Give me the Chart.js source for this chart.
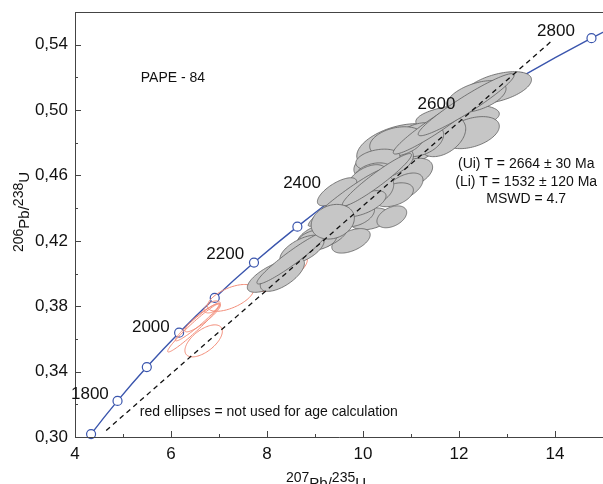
<!DOCTYPE html>
<html>
<head>
<meta charset="utf-8">
<script src="https://cdn.jsdelivr.net/npm/chart.js@4.4.1/dist/chart.umd.min.js"></script>
<style>
  html, body { margin: 0; padding: 0; background: #fff; }
</style>
</head>
<body>
<canvas id="concordia" width="603" height="484"></canvas>
<script>
// concordia curve (age in Ma)
const ages      = [1600, 1700, 1800, 1900, 2000, 2100, 2200, 2300, 2400, 2500, 2600, 2700, 2800, 2900];
const pb207u235 = [3.835, 4.335, 4.886, 5.496, 6.169, 6.911, 7.729, 8.633, 9.630, 10.731, 11.945, 13.284, 14.760, 16.390];
const pb206u238 = [0.2817, 0.3018, 0.3221, 0.3428, 0.3638, 0.3851, 0.4067, 0.4287, 0.4511, 0.4737, 0.4968, 0.5202, 0.5440, 0.5681];

// age labels next to the curve
const ageLabels = ['1800', '2000', '2200', '2400', '2600', '2800'];
const ageLabelX = [4.31, 5.58, 7.13, 8.73, 11.53, 14.02];
const ageLabelY = [0.3263, 0.3674, 0.4115, 0.455, 0.5033, 0.548];

// discordia (dashed)
const discordiaX = [4.65, 13.92];
const discordiaY = [0.304, 0.542];

// error ellipses: [207/235 centre, 206/238 centre, sx, sy, rho]
const redEllipses = [
  [7.24, 0.3851, 0.48, 0.0082, 0.6],
  [6.47, 0.3667, 0.54, 0.0147, 0.97],
  [6.55, 0.3704, 0.46, 0.0116, 0.96],
  [6.66, 0.3729, 0.37, 0.0086, 0.9],
  [6.68, 0.3588, 0.39, 0.0098, 0.6],
  [6.86, 0.3796, 0.17, 0.0037, 0.5],
  [8.30, 0.4000, 0.54, 0.0110, 0.75]
];
const grayEllipses = [
  [10.76, 0.4776, 0.89, 0.0141, 0.4],
  [11.97, 0.4953, 0.87, 0.0080, 0.3],
  [12.80, 0.5137, 0.71, 0.0098, 0.5],
  [12.36, 0.5082, 0.62, 0.0098, 0.5],
  [12.26, 0.4862, 0.58, 0.0098, 0.4],
  [11.66, 0.4837, 0.48, 0.0122, 0.4],
  [11.16, 0.4819, 0.52, 0.0104, 0.3],
  [11.00, 0.4615, 0.45, 0.0090, 0.4],
  [10.85, 0.4530, 0.40, 0.0085, 0.5],
  [10.43, 0.4678, 0.62, 0.0104, 0.4],
  [10.70, 0.4806, 0.56, 0.0092, 0.3],
  [10.31, 0.4696, 0.46, 0.0065, 0.3],
  [10.22, 0.4604, 0.41, 0.0073, 0.3],
  [10.64, 0.4482, 0.41, 0.0073, 0.4],
  [10.33, 0.4519, 0.31, 0.0086, 0.3],
  [10.08, 0.4574, 0.41, 0.0092, 0.5],
  [10.14, 0.4335, 0.41, 0.0067, 0.3],
  [10.60, 0.4347, 0.31, 0.0067, 0.4],
  [9.75, 0.4200, 0.40, 0.0075, 0.5],
  [9.87, 0.4360, 0.37, 0.0073, 0.4],
  [9.46, 0.4500, 0.41, 0.0086, 0.7],
  [10.00, 0.4427, 0.48, 0.0080, 0.6],
  [9.15, 0.4231, 0.52, 0.0086, 0.5],
  [9.04, 0.4206, 0.41, 0.0065, 0.3],
  [8.73, 0.4145, 0.46, 0.0090, 0.6],
  [8.13, 0.3985, 0.54, 0.0100, 0.7],
  [8.32, 0.3995, 0.46, 0.0104, 0.65],
  [8.52, 0.4096, 0.73, 0.0160, 0.95],
  [9.66, 0.4464, 0.80, 0.0175, 0.96],
  [10.29, 0.4574, 0.72, 0.0160, 0.95],
  [11.53, 0.4911, 0.90, 0.0180, 0.95],
  [12.15, 0.5033, 1.00, 0.0190, 0.95],
  [9.37, 0.4317, 0.45, 0.0106, 0.2]
];

// axes
const xMajor = [4, 6, 8, 10, 12, 14];
const xMinor = [5, 7, 9, 11, 13, 15];
const yMajor = [0.30, 0.34, 0.38, 0.42, 0.46, 0.50, 0.54];
const yMinor = [0.32, 0.36, 0.40, 0.44, 0.48, 0.52, 0.56];
const yTickLabels = ['0,30', '0,34', '0,38', '0,42', '0,46', '0,50', '0,54'];

const FONT = '"Liberation Sans", Arial, sans-serif';
const BLUE = '#3a55ad';

const curve = ages.map((a, i) => ({x: pb207u235[i], y: pb206u238[i]}));
const markers = curve.filter((p, i) => ages[i] >= 1700 && ages[i] <= 2800);
const discordia = discordiaX.map((x, i) => ({x: x, y: discordiaY[i]}));

function ellipsePath(ctx, xs, ys, e) {
  const [cx, cy, sx, sy, r] = e;
  const q = Math.sqrt(1 - r * r);
  ctx.beginPath();
  for (let i = 0; i <= 90; i++) {
    const t = i / 90 * 2 * Math.PI;
    const px = xs.getPixelForValue(cx + sx * Math.cos(t));
    const py = ys.getPixelForValue(cy + sy * (r * Math.cos(t) + q * Math.sin(t)));
    if (i === 0) ctx.moveTo(px, py); else ctx.lineTo(px, py);
  }
  ctx.closePath();
}

// pieces: [text, isSuperscript]
function richText(ctx, pieces, x, y, rot) {
  const big = '15px ' + FONT, small = '14px ' + FONT;
  let w = 0;
  pieces.forEach(p => { ctx.font = p[1] ? small : big; w += ctx.measureText(p[0]).width; });
  ctx.save();
  ctx.translate(x, y);
  ctx.rotate(rot);
  ctx.fillStyle = '#111';
  ctx.textBaseline = 'alphabetic';
  ctx.textAlign = 'left';
  let cur = -w / 2;
  pieces.forEach(p => {
    ctx.font = p[1] ? small : big;
    ctx.fillText(p[0], cur, p[1] ? -6 : 0);
    cur += ctx.measureText(p[0]).width;
  });
  ctx.restore();
}

const ellipsePlugin = {
  id: 'ellipses',
  afterDatasetDraw(chart, args) {
    if (args.index !== 1) return;
    const ctx = chart.ctx, xs = chart.scales.x, ys = chart.scales.y;
    ctx.save();
    ctx.lineWidth = 1;
    ctx.strokeStyle = '#f28c78';
    redEllipses.forEach(e => { ellipsePath(ctx, xs, ys, e); ctx.stroke(); });
    ctx.lineWidth = 0.8;
    ctx.strokeStyle = '#5e5e5e';
    ctx.fillStyle = '#c6c6c6';
    grayEllipses.forEach(e => { ellipsePath(ctx, xs, ys, e); ctx.fill(); ctx.stroke(); });
    ctx.restore();
  }
};

const decorPlugin = {
  id: 'decor',
  afterDraw(chart) {
    const ctx = chart.ctx, xs = chart.scales.x, ys = chart.scales.y;
    const a = chart.chartArea;
    ctx.save();
    // frame: left, bottom, top
    ctx.strokeStyle = '#444';
    ctx.lineWidth = 1;
    ctx.beginPath();
    ctx.moveTo(a.left + 0.5, a.top + 0.5);
    ctx.lineTo(a.left + 0.5, a.bottom + 0.5);
    ctx.lineTo(a.right, a.bottom + 0.5);
    ctx.moveTo(a.left, a.top + 0.5);
    ctx.lineTo(a.right, a.top + 0.5);
    // inward ticks
    xMajor.forEach(v => { const p = Math.round(xs.getPixelForValue(v)) + 0.5; ctx.moveTo(p, a.bottom); ctx.lineTo(p, a.bottom - 6); });
    xMinor.forEach(v => { const p = Math.round(xs.getPixelForValue(v)) + 0.5; ctx.moveTo(p, a.bottom); ctx.lineTo(p, a.bottom - 3); });
    yMajor.forEach(v => { const p = Math.round(ys.getPixelForValue(v)) + 0.5; ctx.moveTo(a.left, p); ctx.lineTo(a.left + 6, p); });
    yMinor.forEach(v => { const p = Math.round(ys.getPixelForValue(v)) + 0.5; ctx.moveTo(a.left, p); ctx.lineTo(a.left + 3, p); });
    ctx.stroke();

    // age labels
    ctx.fillStyle = '#111';
    ctx.font = '17px ' + FONT;
    ctx.textAlign = 'center';
    ctx.textBaseline = 'middle';
    ageLabels.forEach((t, i) => ctx.fillText(t, xs.getPixelForValue(ageLabelX[i]), ys.getPixelForValue(ageLabelY[i])));

    // annotations
    ctx.font = '14px ' + FONT;
    ctx.textAlign = 'left';
    ctx.fillText('PAPE - 84', xs.getPixelForValue(5.37), ys.getPixelForValue(0.5198));
    ctx.fillText('red ellipses = not used for age calculation', xs.getPixelForValue(5.35), ys.getPixelForValue(0.3153));
    ctx.textAlign = 'center';
    ctx.fillText('(Ui) T = 2664 \u00b1 30 Ma', xs.getPixelForValue(13.40), ys.getPixelForValue(0.4672));
    ctx.fillText('(Li) T = 1532 \u00b1 120 Ma', xs.getPixelForValue(13.40), ys.getPixelForValue(0.4562));
    ctx.fillText('MSWD = 4.7', xs.getPixelForValue(13.40), ys.getPixelForValue(0.4457));
    ctx.restore();

    // axis titles
    richText(ctx, [['207', true], ['Pb/', false], ['235', true], ['U', false]], 326, 488, 0);
    richText(ctx, [['206', true], ['Pb/', false], ['238', true], ['U', false]], 29, 212, -Math.PI / 2);
  }
};

new Chart(document.getElementById('concordia'), {
  type: 'scatter',
  data: {
    datasets: [
      {
        data: discordia,
        showLine: true,
        borderColor: '#111',
        borderWidth: 1.3,
        borderDash: [5, 4],
        pointRadius: 0,
        order: 0
      },
      {
        data: markers,
        showLine: false,
        pointRadius: 4.5,
        pointBackgroundColor: '#fff',
        pointBorderColor: BLUE,
        pointBorderWidth: 1.2,
        clip: false,
        order: 3
      },
      {
        data: curve,
        showLine: true,
        borderColor: BLUE,
        borderWidth: 1.4,
        cubicInterpolationMode: 'monotone',
        pointRadius: 0,
        order: 4
      }
    ]
  },
  options: {
    responsive: false,
    animation: false,
    devicePixelRatio: 1,
    layout: { autoPadding: false, padding: { top: 12, right: 0, left: 0, bottom: 0 } },
    plugins: { legend: { display: false }, tooltip: { enabled: false } },
    scales: {
      x: {
        type: 'linear', min: 4, max: 15,
        grid: { display: false, drawTicks: false },
        border: { display: false },
        ticks: {
          stepSize: 1, autoSkip: false, maxRotation: 0, padding: 7,
          color: '#111', font: { size: 17, family: FONT },
          callback: v => (xMajor.includes(v) ? String(v) : '')
        },
        afterFit: s => { s.height = 47; s.paddingLeft = 0; s.paddingRight = 0; }
      },
      y: {
        type: 'linear', min: 0.30, max: 0.56,
        grid: { display: false, drawTicks: false },
        border: { display: false },
        ticks: {
          stepSize: 0.02, autoSkip: false, padding: 7,
          color: '#111', font: { size: 17, family: FONT },
          callback: v => {
            const i = yMajor.findIndex(m => Math.abs(m - v) < 1e-6);
            return i >= 0 ? yTickLabels[i] : '';
          }
        },
        afterFit: s => { s.width = 75; s.paddingTop = 0; s.paddingBottom = 0; }
      }
    }
  },
  plugins: [ellipsePlugin, decorPlugin]
});
</script>
</body>
</html>
